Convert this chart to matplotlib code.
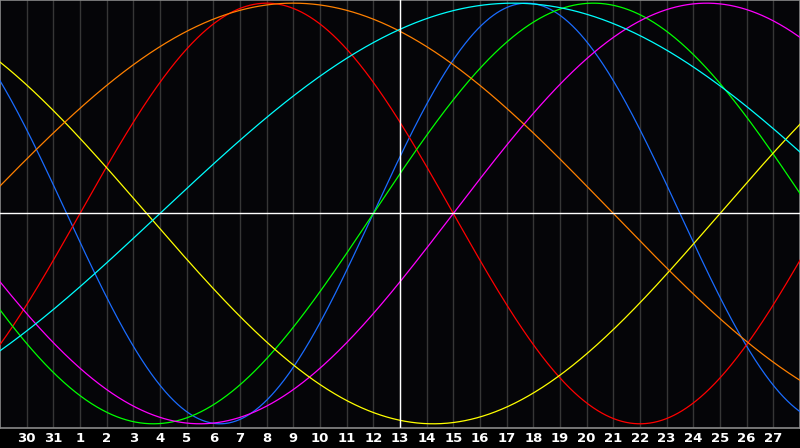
import numpy as np
import matplotlib
matplotlib.use("Agg")
import matplotlib.pyplot as plt

# Day labels shown under the chart (index 1..29 in the 30-day window)
day_labels = [30, 31] + list(range(1, 28))
today_index = 15  # day 13, marked by the white vertical line

# Biorhythm cycles: period (days) and day-index of the upward zero crossing
periods = [23, 28, 33, 38, 43, 48, 53]
upward_zero = [14.0, 3.0, 14.0, 17.0, 27.0, -1.0, 6.0]
colors = ["#1a6cff", "#ff0000", "#00ff00", "#ff00ff", "#ffff00", "#ff8000", "#00ffff"]

fig = plt.figure(figsize=(8.0, 4.48), dpi=100, facecolor="#000000")
ax = fig.add_axes([0, 20 / 448, 1, 428 / 448])
ax.set_facecolor("#050508")

t = np.linspace(0, 30, 1200)
for p, z, c in zip(periods, upward_zero, colors):
    ax.plot(t, np.sin(2 * np.pi * (t - z) / p), color=c, lw=0.9, zorder=3)

ax.set_xlim(0, 30)
ax.set_ylim(-1.02, 1.015)

ticks = list(range(1, len(day_labels) + 1))
ax.set_xticks(ticks)
ax.set_xticklabels([str(d) for d in day_labels], color="white",
                   fontsize=9.5, fontweight="bold", family="DejaVu Sans")
ax.tick_params(axis="x", length=0, pad=3)
ax.set_yticks([])
for x in ticks:
    ax.axvline(x, color="#363636", lw=1.0, zorder=1)
ax.axvline(today_index, color="white", lw=1.0, zorder=4)
ax.axhline(0, color="white", lw=1.0, zorder=4)

for s in ax.spines.values():
    s.set_color("#8a8a8a")
    s.set_linewidth(1.2)

fig.savefig("out.png", dpi=100, facecolor="#000000")
